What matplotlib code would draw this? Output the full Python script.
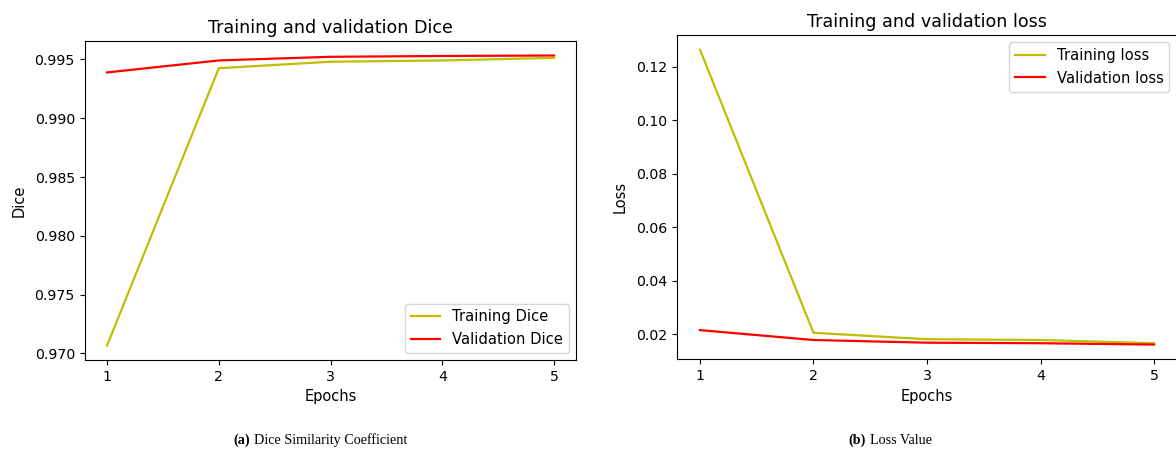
import matplotlib
matplotlib.use("Agg")
import matplotlib.pyplot as plt

epochs = [1, 2, 3, 4, 5]
train_dice = [0.97068, 0.99426, 0.99481, 0.99492, 0.99514]
val_dice = [0.99390, 0.99492, 0.99523, 0.99530, 0.99534]
train_loss = [0.1264, 0.0205, 0.0181, 0.0178, 0.0166]
val_loss = [0.0215, 0.0178, 0.0168, 0.0166, 0.0161]

W, H = 1176, 453
fig = plt.figure(figsize=(W / 100, H / 100), dpi=100)

plt.rcParams["xtick.labelsize"] = 10.2
plt.rcParams["ytick.labelsize"] = 10.2

def rect(l, t, r, b):
    return [l / W, (H - b) / H, (r - l) / W, (b - t) / H]

TITLE_FS = 12.6
LABEL_FS = 10.5
LEG_FS = 10.6
LW = 1.6

ax1 = fig.add_axes(rect(84.7, 41, 576.4, 360))
ax1.plot(epochs, train_dice, color="y", lw=LW, label="Training Dice")
ax1.plot(epochs, val_dice, color="r", lw=LW, label="Validation Dice")
ax1.set_title("Training and validation Dice", fontsize=TITLE_FS)
ax1.set_xlabel("Epochs", fontsize=LABEL_FS)
ax1.set_ylabel("Dice", fontsize=LABEL_FS, labelpad=6)
ax1.set_xticks(epochs)
ax1.legend(loc="lower right", fontsize=LEG_FS)

ax2 = fig.add_axes(rect(677.3, 35, 1176.7, 359.3))
ax2.plot(epochs, train_loss, color="y", lw=LW, label="Training loss")
ax2.plot(epochs, val_loss, color="r", lw=LW, label="Validation loss")
ax2.set_title("Training and validation loss", fontsize=TITLE_FS)
ax2.set_xlabel("Epochs", fontsize=LABEL_FS)
ax2.set_ylabel("Loss", fontsize=LABEL_FS, labelpad=6)
ax2.set_xticks(epochs)
ax2.legend(loc="upper right", fontsize=LEG_FS)

cap_kw = dict(fontsize=10.2, family="Liberation Serif", va="center")
fig.canvas.draw()
renderer = fig.canvas.get_renderer()

def caption(cx, bold, rest):
    y = 1 - 440 / H
    t1 = fig.text(0, y, bold, fontweight="bold", ha="left", **cap_kw)
    t2 = fig.text(0, y, rest, ha="left", **cap_kw)
    w1 = t1.get_window_extent(renderer).width
    w2 = t2.get_window_extent(renderer).width
    gap = 4
    start = cx - (w1 + gap + w2) / 2
    t1.set_x(start / W)
    t2.set_x((start + w1 + gap) / W)

caption(320, "(a)", "Dice Similarity Coefficient")
caption(890, "(b)", "Loss Value")

fig.savefig("out.png", dpi=100)
